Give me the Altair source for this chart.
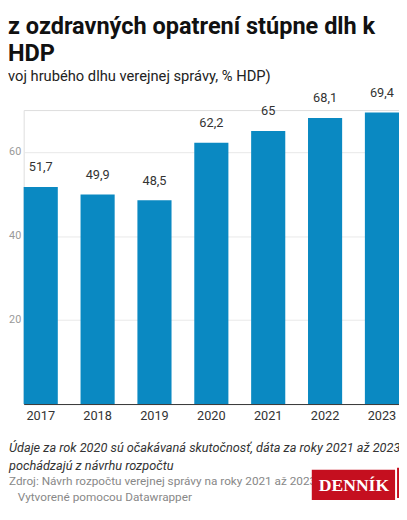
import altair as alt
import pandas as pd

# ---- data ----
YEARS = ["2017", "2018", "2019", "2020", "2021", "2022", "2023"]
DEBT = [51.7, 49.9, 48.5, 62.2, 65.0, 68.1, 69.4]
Y_TICKS = [20, 40, 60]

TITLE_1 = "z ozdravných opatrení stúpne dlh k"
TITLE_2 = "HDP"
SUBTITLE = "voj hrubého dlhu verejnej správy, % HDP)"
NOTE_1 = "Údaje za rok 2020 sú očakávaná skutočnosť, dáta za roky 2021 až 2023"
NOTE_2 = "pochádzajú z návrhu rozpočtu"
SOURCE = "Zdroj: Návrh rozpočtu verejnej správy na roky 2021 až 2023"
CREDIT = "Vytvorené pomocou Datawrapper"
LOGO = "DENNÍK"

df = pd.DataFrame({"year": YEARS, "debt": DEBT})

# ---- layout (pixels) ----
L, T, R, B = 16, 99, 0, 104
W, H = 383, 300
FONT = "Roboto"
BLUE = "#0a89c2"


def py(page_y):
    return page_y - 8 - T


def px(page_x):
    return page_x - 8 - L


x_enc = alt.X(
    "year:O",
    scale=alt.Scale(paddingInner=0.4, paddingOuter=0.0),
    axis=alt.Axis(
        title=None, labelAngle=0, ticks=False, labelPadding=6, labelFontSize=13,
        labelColor="#333", labelFont=FONT, domainColor="#333", domainWidth=1,
        grid=False,
    ),
)
y_enc = alt.Y(
    "debt:Q",
    scale=alt.Scale(domain=[0, 70], nice=False),
    axis=alt.Axis(
        title=None, values=Y_TICKS, ticks=False, domain=False, labelPadding=3,
        labelFontSize=11, labelColor="#999", labelFont=FONT,
        gridColor="#e8e8e8",
    ),
)

base = alt.Chart(df)
bars = base.mark_bar(color=BLUE).encode(x=x_enc, y=y_enc)
labels = (
    base.transform_calculate(lab="replace(format(datum.debt, '.1~f'), '.', ',')")
    .mark_text(dy=-13, fontSize=13, color="#333", font=FONT, baseline="bottom")
    .encode(x=x_enc, y=y_enc, text="lab:N")
)


def txt(s, x, y, **kw):
    props = dict(align="left", baseline="alphabetic", font=FONT)
    props.update(kw)
    return (
        alt.Chart(alt.Data(values=[{"t": s}]))
        .mark_text(**props)
        .encode(x=alt.value(x), y=alt.value(y), text="t:N")
    )


title1 = txt(TITLE_1, px(8), py(29), fontSize=24, fontWeight="bold", color="#111")
title2 = txt(TITLE_2, px(8), py(57), fontSize=24, fontWeight="bold", color="#111")
subtitle = txt(SUBTITLE, px(8), py(77), fontSize=15, color="#222")
note1 = txt(NOTE_1, px(9), py(456), fontSize=13, fontStyle="italic", color="#333")
note2 = txt(NOTE_2, px(9), py(474), fontSize=13, fontStyle="italic", color="#333")
source = txt(SOURCE, px(9), py(490), fontSize=12, color="#888")
credit = txt(CREDIT, px(18), py(506), fontSize=12, color="#888")

logo_box = (
    alt.Chart(alt.Data(values=[{"t": LOGO}]))
    .mark_rect(color="#c50f1f")
    .encode(x=alt.value(px(318)), x2=alt.value(px(403)), y=alt.value(py(474)), y2=alt.value(py(505)))
)
logo_box2 = (
    alt.Chart(alt.Data(values=[{"t": LOGO}]))
    .mark_rect(color="#c50f1f")
    .encode(x=alt.value(px(405)), x2=alt.value(px(412)), y=alt.value(py(472)), y2=alt.value(py(503)))
)
logo_txt = txt(LOGO, px(361), py(496), align="center", fontSize=18, fontWeight="bold",
               font="Liberation Serif", color="white")

chart = (
    alt.layer(bars, labels, title1, title2, subtitle, note1, note2, source, credit,
              logo_box, logo_box2, logo_txt)
    .properties(
        width=W, height=H,
        autosize=alt.AutoSizeParams(type="none"),
        padding={"left": L, "top": T, "right": R, "bottom": B},
    )
    .configure_view(stroke=None)
    .configure(background="white")
)

chart.save("out.html", embed_options={"renderer": "svg", "actions": False})
